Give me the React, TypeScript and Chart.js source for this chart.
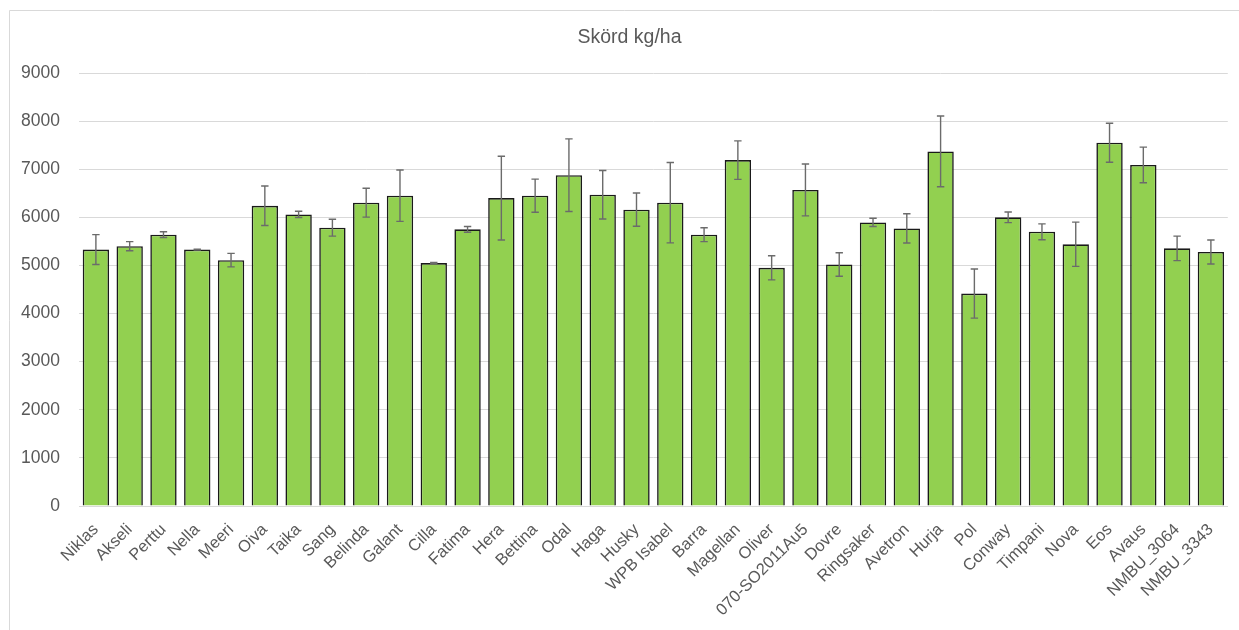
import React, { useEffect, useRef } from "react";
import { Chart, registerables } from "chart.js";

Chart.register(...registerables);

const categories = [
  "Niklas", "Akseli", "Perttu", "Nella", "Meeri", "Oiva", "Taika", "Sang", "Belinda", "Galant",
  "Cilla", "Fatima", "Hera", "Bettina", "Odal", "Haga", "Husky", "WPB Isabel", "Barra", "Magellan",
  "Oliver", "070-SO2011Au5", "Dovre", "Ringsaker", "Avetron", "Hurja", "Pol", "Conway", "Timpani",
  "Nova", "Eos", "Avaus", "NMBU_3064", "NMBU_3343",
];

const yieldValues = [
  5330, 5400, 5640, 5330, 5110, 6240, 6060, 5785, 6305, 6450,
  5050, 5750, 6400, 6450, 6875, 6470, 6160, 6305, 5640, 7190,
  4950, 6570, 5020, 5895, 5770, 7370, 4415, 6000, 5700,
  5440, 7550, 7090, 5355, 5280,
];

const errorValues = [
  310, 95, 60, 10, 140, 410, 65, 175, 300, 535,
  10, 60, 870, 345, 755, 505, 345, 835, 145, 400,
  250, 540, 245, 85, 305, 735, 510, 110, 165,
  460, 405, 370, 255, 250,
];

const yTickValues = [0, 1000, 2000, 3000, 4000, 5000, 6000, 7000, 8000, 9000];

const titleText = "Skörd kg/ha";

const FONT = "'Liberation Sans', Arial, sans-serif";
const TEXT = "#595959";

const framePlugin = {
  id: "frame",
  beforeDraw(chart: any) {
    const ctx = chart.ctx;
    ctx.save();
    ctx.fillStyle = "#ffffff";
    ctx.fillRect(0, 0, chart.width, chart.height);
    ctx.strokeStyle = "#d9d9d9";
    ctx.lineWidth = 1;
    ctx.beginPath();
    ctx.moveTo(9.5, chart.height + 2);
    ctx.lineTo(9.5, 10.5);
    ctx.lineTo(chart.width + 2, 10.5);
    ctx.stroke();
    ctx.fillStyle = TEXT;
    ctx.font = `19.5px ${FONT}`;
    ctx.textAlign = "center";
    ctx.textBaseline = "middle";
    ctx.fillText(titleText, 629.5, 38);
    ctx.restore();
  },
};

const errorBarPlugin = {
  id: "errorBars",
  afterDatasetsDraw(chart: any) {
    const ctx = chart.ctx;
    const meta = chart.getDatasetMeta(0);
    const yScale = chart.scales.y;
    ctx.save();
    ctx.strokeStyle = "#6b6b6b";
    ctx.lineWidth = 1.4;
    meta.data.forEach((bar: any, i: number) => {
      const v = yieldValues[i];
      const e = errorValues[i];
      const x = bar.x;
      const yTop = yScale.getPixelForValue(v + e);
      const yBot = yScale.getPixelForValue(v - e);
      const cap = 3.7;
      ctx.beginPath();
      ctx.moveTo(x, yTop);
      ctx.lineTo(x, yBot);
      ctx.moveTo(x - cap, yTop);
      ctx.lineTo(x + cap, yTop);
      ctx.moveTo(x - cap, yBot);
      ctx.lineTo(x + cap, yBot);
      ctx.stroke();
    });
    ctx.restore();
  },
};

export default function App() {
  const ref = useRef<HTMLCanvasElement | null>(null);

  useEffect(() => {
    if (!ref.current) return;
    const chart = new Chart(ref.current, {
      type: "bar",
      data: {
        labels: categories,
        datasets: [
          {
            label: titleText,
            data: yieldValues,
            backgroundColor: "#92d050",
            borderColor: "#1a1a1a",
            borderWidth: 1.6,
            barPercentage: 0.78,
            categoryPercentage: 1,
          },
        ],
      },
      options: {
        responsive: false,
        animation: false,
        devicePixelRatio: 1,
        layout: { padding: { left: 0, right: 7, top: 73, bottom: 0 } },
        plugins: {
          legend: { display: false },
          tooltip: { enabled: false },
          title: { display: false },
        },
        scales: {
          x: {
            grid: { display: false, drawTicks: false },
            border: { display: true, color: "#d9d9d9", width: 1 },
            ticks: {
              color: TEXT,
              font: { family: FONT, size: 16.5 },
              minRotation: 45,
              maxRotation: 45,
              autoSkip: false,
              padding: 14,
            },
            afterFit(scale: any) {
              scale.height = 124;
            },
          },
          y: {
            min: 0,
            max: 9000,
            afterBuildTicks(scale: any) {
              scale.ticks = yTickValues.map((v) => ({ value: v }));
            },
            grid: { color: "#d9d9d9", lineWidth: 1, drawTicks: false },
            border: { display: false },
            ticks: {
              color: TEXT,
              font: { family: FONT, size: 17.5 },
              padding: 19,
              callback: (value: any) => String(value),
            },
            afterFit(scale: any) {
              scale.width = 79;
            },
          },
        },
      },
      plugins: [framePlugin, errorBarPlugin],
    });
    return () => chart.destroy();
  }, []);

  return (
    <div style={{ position: "fixed", left: 0, top: 0, width: 1239, height: 630, background: "#fff" }}>
      <canvas ref={ref} width={1239} height={630} style={{ display: "block" }} />
    </div>
  );
}
